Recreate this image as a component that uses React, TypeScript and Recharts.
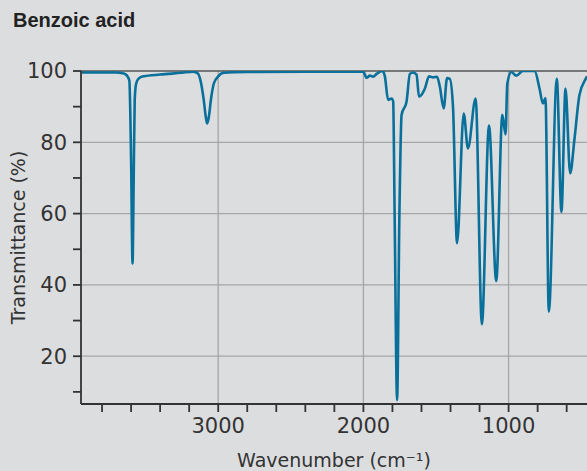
import { LineChart, Line, XAxis, YAxis, CartesianGrid, ReferenceLine, Label } from 'recharts';

// IR spectrum of benzoic acid
const wavenumbers = [
  3945, 3800, 3700, 3660, 3640, 3625, 3612, 3600, 3590, 3582, 3575, 3565, 3550, 3515, 3400, 3250,
  3172, 3140, 3120, 3100, 3085, 3076, 3065, 3050, 3030, 3000, 2960, 2800, 2400, 2001,
  1978, 1955, 1933, 1909, 1868, 1852, 1830, 1806, 1795, 1785, 1768, 1752, 1737, 1703, 1680,
  1658, 1634, 1617, 1577, 1548, 1520, 1493, 1474, 1447, 1424, 1405, 1383, 1355, 1309, 1280,
  1227, 1184, 1135, 1085, 1043, 1021, 1009, 981, 947, 902, 821, 787, 764, 746, 723, 668, 636,
  608, 576, 546, 512, 466, 460,
];
const transmittance = [
  99.6, 99.6, 99.6, 99.4, 99.1, 98.5, 97.3, 75, 46, 70, 92, 96.5, 97.8, 98.5, 99.0, 99.5,
  99.8, 99.3, 97, 92, 87, 85.3, 87, 92, 96.5, 98.5, 99.5, 99.7, 99.8, 99.8,
  98.1, 98.7, 98.4, 99.2, 100, 98.5, 91.9, 92.3, 91.5, 60, 7.7, 60, 87.7, 91.4, 99.2,
  99.6, 99, 92.8, 95, 98.5, 98.2, 98.4, 95.7, 89.5, 98, 97.8, 90, 51.7, 88.1, 78.3,
  92.3, 29, 84.7, 41.1, 87.7, 82.2, 96.4, 99.7, 98.7, 100, 100, 95.1, 90.9, 92.4, 32.5, 97.8, 60.5,
  95.1, 71.3, 81, 93.3, 98, 98.5,
];
const xTicks = [600, 800, 1000, 1200, 1400, 1600, 1800, 2000, 2200, 2400, 2600, 2800, 3000, 3200, 3400, 3600, 3800];
const yTicks = [10, 20, 30, 40, 50, 60, 70, 80, 90, 100];
const xGrid = [1000, 2000, 3000];
const yGrid = [20, 40, 60, 80];

const data = wavenumbers.map((wn, i) => ({ wn, t: transmittance[i] }));

const tickFont = { fontFamily: 'DejaVu Sans', fontSize: 21, fill: '#333' };

export default function App() {
  return (
    <div style={{ position: 'absolute', left: 0, top: 0, width: 587, height: 471, background: '#dcdddf', overflow: 'hidden' }}>
      <div style={{ position: 'absolute', left: 13, top: 9, fontFamily: 'Liberation Sans', fontWeight: 'bold', fontSize: 20, color: '#222' }}>
        Benzoic acid
      </div>
      <LineChart width={587} height={471} data={data} margin={{ top: 71, right: 0, bottom: 0, left: 0 }}>
        <CartesianGrid horizontalValues={yGrid} verticalValues={xGrid} stroke="#a6a6a6" strokeWidth={1.3} />
        <ReferenceLine y={100} stroke="#555" strokeWidth={1.6} />
        <XAxis
          dataKey="wn"
          type="number"
          reversed
          domain={[460, 3945]}
          allowDataOverflow
          ticks={xTicks}
          tickFormatter={(v: number) => (v % 1000 === 0 ? String(v) : '')}
          interval={0}
          height={67}
          tickSize={8}
          tickMargin={6}
          stroke="#333"
          strokeWidth={1.8}
          tick={tickFont}
        >
          <Label value="Wavenumber (cm⁻¹)" position="insideBottom" offset={4} style={{ fontFamily: 'DejaVu Sans', fontSize: 19, fill: '#333' }} />
        </XAxis>
        <YAxis
          type="number"
          domain={[6.6, 100]}
          allowDataOverflow
          ticks={yTicks}
          tickFormatter={(v: number) => (v % 20 === 0 ? String(v) : '')}
          interval={0}
          width={81}
          tickSize={8}
          tickMargin={6}
          stroke="#333"
          strokeWidth={1.8}
          tick={tickFont}
        >
          <Label value="Transmittance (%)" angle={-90} position="insideLeft" offset={18} style={{ fontFamily: 'DejaVu Sans', fontSize: 19, fill: '#333', textAnchor: 'middle' }} />
        </YAxis>
        <Line type="monotone" dataKey="t" stroke="#08709a" strokeWidth={2.6} dot={false} isAnimationActive={false} />
      </LineChart>
    </div>
  );
}
